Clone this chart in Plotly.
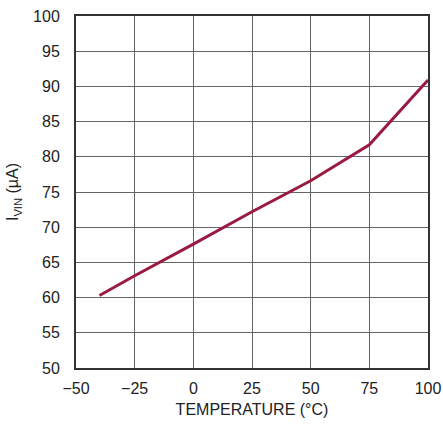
import plotly.graph_objects as go

temperature = [-40, -25, 0, 25, 50, 62.5, 75, 100]
i_vin = [60.3, 63.1, 67.6, 72.2, 76.6, 79.2, 81.7, 90.9]

x_ticks = [-50, -25, 0, 25, 50, 75, 100]
y_ticks = [50, 55, 60, 65, 70, 75, 80, 85, 90, 95, 100]

fig = go.Figure()
fig.add_trace(go.Scatter(x=temperature, y=i_vin, mode="lines",
                         line=dict(color="#9a1a40", width=3), showlegend=False,
                         cliponaxis=False))

font = dict(family="Liberation Sans, Arial, sans-serif", size=16, color="#222")
fig.update_layout(
    width=443, height=428,
    margin=dict(l=76, r=15, t=16, b=60, autoexpand=False),
    paper_bgcolor="white", plot_bgcolor="white",
    font=font,
)
fig.update_xaxes(range=[-50, 100], tickvals=x_ticks, ticks="", showgrid=True,
                 gridcolor="#666", gridwidth=1, zeroline=False,
                 showline=True, linecolor="#333", linewidth=2, mirror=True,
                 ticklabelstandoff=5, automargin=False,
                 title=dict(text="TEMPERATURE (°C)", standoff=8, font=font))
fig.update_yaxes(range=[50, 100], tickvals=y_ticks, ticks="", showgrid=True,
                 gridcolor="#666", gridwidth=1, zeroline=False,
                 showline=True, linecolor="#333", linewidth=2, mirror=True,
                 ticklabelstandoff=11, automargin=False,
                 title=dict(text="I<sub>VIN</sub> (µA)", standoff=10, font=font))
fig.write_html("out.html",
               config={"displayModeBar": False},
               post_script="document.body.style.margin='0';"
                           "document.body.style.overflow='hidden';")
